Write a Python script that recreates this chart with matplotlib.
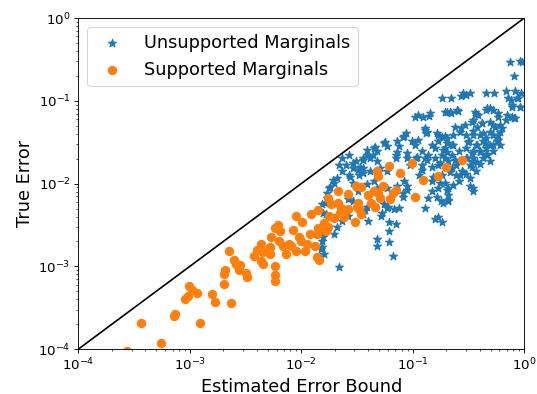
import numpy as np
import matplotlib.pyplot as plt

# log10 of (estimated bound, true error) for each marginal
unsup_log_bound = [
    -0.129, -0.037, -0.015, -0.092, -0.166, -0.083, -0.03, -0.06, -0.12, -0.11,
    -0.04, -0.34, -0.27, -0.74, -0.66, -0.57, -0.52, -0.49, -0.55, -0.59,
    -0.71, -0.66, -0.98, -0.91, -0.85, -0.34, -0.31, -0.16, -0.09, -0.43,
    -0.46, -0.38, -0.28, -0.22, -0.62, -0.57, -1.06, -1.08, -0.89, -0.88,
    -0.77, -0.71, -1.26, -1.23, -1.14, -1.12, -1.35, -1.32, -1.41, -1.38,
    -1.01, -0.98, -1.15, -1.15, -1.05, -0.83, -0.80, -0.77, -0.71, -0.65,
    -0.58, -0.86, -0.80, -0.74, -0.68, -0.65, -0.56, -0.49, -0.46, -0.40,
    -0.34, -0.523, -0.461, -0.400, -0.338, -0.277, -0.492, -0.431, -0.369, -0.308,
    -0.246, -0.523, -0.461, -0.338, -0.277, -0.461, -0.400, -0.369, -0.308, -0.523,
    -0.431, -0.523, -0.584, -0.23, -0.20, -0.23, -0.215, -0.46, -0.49, -0.58,
    -0.61, -0.74, -0.77, -0.71, -0.68, -0.83, -0.83, -0.86, -0.89, -0.75,
    -0.68, -0.80, -0.74, -0.94, -0.92, -0.97, -1.08, -1.05, -1.09, -1.14,
    -1.20, -1.23, -1.17, -1.12, -1.26, -1.28, -1.21, -1.15, -1.21, -1.21,
    -1.32, -1.32, -1.18, -1.35, -1.38, -1.45, -1.48, -1.51, -1.54, -1.60,
    -1.57, -1.66, -1.63, -1.68, -1.54, -1.49, -1.45, -1.40, -1.75, -1.71,
    -1.77, -1.81, -1.78, -1.80, -1.83, -1.81, -1.82, -1.80, -1.71, -1.68,
    -1.63, -1.58, -1.54, -1.58, -1.66, -0.92, -0.89, -0.71, -0.65, -0.61,
    -0.77, -0.92, -1.63, -1.57, -1.45, -1.32, -1.29, -1.23, -1.23, -1.32,
    -1.41,
    -0.693, -0.606, -0.666, -0.442, -0.412, -0.337, -0.278, -0.233, -0.158, -0.113,
    -0.083, -0.143, -0.054, -0.113, -0.039,
    -0.532, -0.472, -0.427, -0.382, -0.308, -0.263, -0.218, -0.233, -0.308, -0.368,
    -0.457, -0.502, -0.427, -0.352, -0.278, -0.397, -0.472, -0.337, -0.427, -0.472,
    -0.517, -0.547, -0.487, -0.457, -0.577, -0.637, -0.696, -0.637, -0.696, -0.622,
    -0.666, -0.637, -0.682, -0.577,
    -0.951, -0.846, -0.890, -0.875, -1.085, -0.951, -1.249, -1.339, -1.413, -1.354,
    -1.444, -1.145, -1.055, -0.965, -1.025, -0.875, -0.831, -0.756, -0.726, -0.696,
    -0.741, -0.786, -0.816, -0.756, -0.696, -0.786, -0.726, -0.682, -1.085, -1.055,
    -1.474, -1.444, -1.279, -1.220, -0.771,
    -1.533, -1.489, -1.563, -1.713, -1.743, -1.772, -1.787, -1.803, -1.758, -1.803,
    -1.817, -1.832, -1.413, -1.428,
]
unsup_log_err = [
    -0.528, -0.52, -0.528, -0.696, -0.88, -0.88, -0.91, -0.97, -0.99, -1.07,
    -1.08, -0.90, -0.91, -0.96, -0.96, -0.94, -0.93, -0.90, -0.90, -1.12,
    -1.14, -1.15, -1.19, -1.19, -1.18, -1.11, -1.09, -1.23, -1.21, -1.16,
    -1.23, -1.27, -1.29, -1.29, -1.31, -1.33, -1.39, -1.43, -1.35, -1.39,
    -1.41, -1.43, -1.51, -1.55, -1.49, -1.55, -1.57, -1.61, -1.65, -1.69,
    -1.49, -1.53, -1.65, -1.69, -1.69, -1.53, -1.57, -1.49, -1.57, -1.53,
    -1.61, -1.65, -1.69, -1.65, -1.73, -1.81, -1.85, -1.77, -1.69, -1.61,
    -1.57, -1.408, -1.368, -1.408, -1.448, -1.408, -1.488, -1.528, -1.488, -1.528,
    -1.488, -1.568, -1.608, -1.648, -1.608, -1.728, -1.768, -1.688, -1.728, -1.688,
    -1.848, -1.888, -1.728, -1.19, -1.33, -1.41, -1.53, -2.09, -2.03, -1.97,
    -1.89, -1.89, -2.05, -1.99, -2.05, -1.97, -2.09, -2.17, -2.29, -2.21,
    -2.21, -2.43, -2.47, -1.89, -1.77, -1.69, -1.97, -2.03, -2.11, -2.03,
    -2.17, -2.29, -2.31, -2.29, -2.25, -2.39, -2.47, -2.49, -2.57, -2.71,
    -2.67, -2.75, -2.87, -1.97, -1.85, -1.81, -1.89, -1.73, -1.81, -1.77,
    -1.89, -1.77, -1.85, -1.93, -1.99, -2.09, -2.37, -2.45, -2.05, -1.99,
    -2.17, -2.25, -2.37, -2.49, -2.57, -2.69, -2.79, -2.85, -2.61, -2.53,
    -2.45, -2.39, -2.21, -2.19, -3.01, -1.61, -1.69, -1.69, -1.65, -1.77,
    -1.77, -1.83, -1.69, -1.65, -1.69, -1.73, -1.81, -1.85, -2.05, -2.05,
    -2.01,
    -1.132, -1.112, -1.132, -1.132, -1.172, -1.091, -1.112, -1.152, -1.172, -1.193,
    -1.212, -0.970, -0.970, -1.051, -1.072,
    -1.293, -1.253, -1.314, -1.273, -1.253, -1.314, -1.374, -1.474, -1.374, -1.394,
    -1.414, -1.495, -1.535, -1.515, -1.535, -1.616, -1.636, -1.656, -1.736, -1.797,
    -1.696, -1.857, -1.937, -2.058, -1.374, -1.414, -1.454, -1.535, -1.616, -1.716,
    -1.857, -2.018, -2.139, -1.897,
    -1.172, -1.152, -1.333, -1.374, -1.434, -1.474, -1.495, -1.555, -1.595, -1.656,
    -1.716, -1.616, -1.636, -1.676, -1.776, -1.716, -1.797, -1.756, -1.595, -1.515,
    -1.434, -1.394, -1.918, -1.998, -2.079, -2.160, -2.239, -2.199, -2.160, -2.079,
    -1.797, -1.877, -2.360, -2.280, -2.401,
    -1.756, -1.837, -1.918, -1.958, -2.039, -2.119, -2.240, -2.361, -2.523, -2.643,
    -2.764, -2.885, -2.280, -2.320,
]

sup_log_bound = [
    -3.56, -3.44, -3.26, -3.145, -3.13, -2.91, -3.04, -3.02, -3.01, -2.98,
    -2.94, -2.80, -2.77, -2.63, -2.69, -2.69, -2.68, -2.65, -2.60, -2.59,
    -2.56, -2.55, -2.50, -2.49, -2.42, -2.40, -2.36, -2.36, -2.34, -2.34,
    -2.28, -2.27, -2.28, -2.24, -2.24, -2.24, -2.24, -2.21, -2.19, -2.20,
    -2.16, -2.14, -2.11, -2.09, -2.05, -2.07, -2.05, -2.02, -2.00, -1.99,
    -1.97, -1.95, -1.92, -1.91, -1.88, -1.86, -1.85, -1.85, -1.86, -1.84,
    -1.80, -1.78, -1.76, -1.76, -1.75, -1.73, -1.71, -1.67, -1.67, -1.65,
    -1.64, -1.62, -1.58, -1.58, -1.52, -1.51, -1.50, -1.49, -1.48, -1.46,
    -1.46, -1.40, -1.37, -1.35, -1.34, -1.32, -1.31, -1.31, -1.29, -1.27,
    -1.21, -1.20, -1.18, -1.15, -1.11, -1.01, -0.98, -0.91, -0.77, -0.70,
    -0.56,
]
sup_log_err = [
    -4.02, -3.68, -3.93, -3.60, -3.58, -3.68, -3.40, -3.36, -3.24, -3.28,
    -3.32, -3.33, -3.43, -3.44, -3.21, -3.09, -3.04, -2.81, -2.92, -2.97,
    -3.04, -2.98, -3.08, -3.13, -2.87, -2.80, -2.73, -2.93, -2.97, -2.83,
    -2.77, -2.64, -2.85, -2.99, -3.10, -3.18, -2.54, -2.50, -2.57, -2.69,
    -2.75, -2.85, -2.73, -2.76, -2.82, -2.56, -2.39, -2.65, -2.69, -2.46,
    -2.82, -2.73, -2.61, -2.37, -2.75, -2.61, -2.32, -2.54, -2.89, -2.92,
    -2.48, -2.57, -2.17, -2.53, -2.39, -2.25, -2.41, -2.09, -2.24, -2.35,
    -2.30, -2.40, -2.13, -2.31, -2.46, -2.03, -2.28, -2.23, -2.31, -2.04,
    -2.37, -2.14, -2.23, -2.09, -2.28, -1.85, -1.91, -2.11, -2.17, -2.03,
    -1.79, -2.19, -2.11, -2.08, -1.87, -1.75, -2.16, -1.96, -1.91, -1.80,
    -1.72,
]

unsup_bound = 10 ** np.array(unsup_log_bound)
unsup_err = 10 ** np.array(unsup_log_err)
sup_bound = 10 ** np.array(sup_log_bound)
sup_err = 10 ** np.array(sup_log_err)

fig = plt.figure(figsize=(537 / 80, 394 / 80), dpi=80)
ax = fig.add_subplot(111)
fig.subplots_adjust(left=0.146, right=0.976, top=0.954, bottom=0.114)

ax.scatter(unsup_bound, unsup_err, marker='*', s=55, label='Unsupported Marginals')
ax.scatter(sup_bound, sup_err, marker='o', s=55, label='Supported Marginals')
ax.plot([1e-4, 1], [1e-4, 1], 'k-', linewidth=1.5)

ax.set_xscale('log')
ax.set_yscale('log')
ax.set_xlim(1e-4, 1)
ax.set_ylim(1e-4, 1)
ax.set_xlabel('Estimated Error Bound', fontsize=16)
ax.set_ylabel('True Error', fontsize=16)
ax.tick_params(labelsize=12)
ax.legend(loc='upper left', fontsize=16)

fig.savefig('out.png', dpi=80)
